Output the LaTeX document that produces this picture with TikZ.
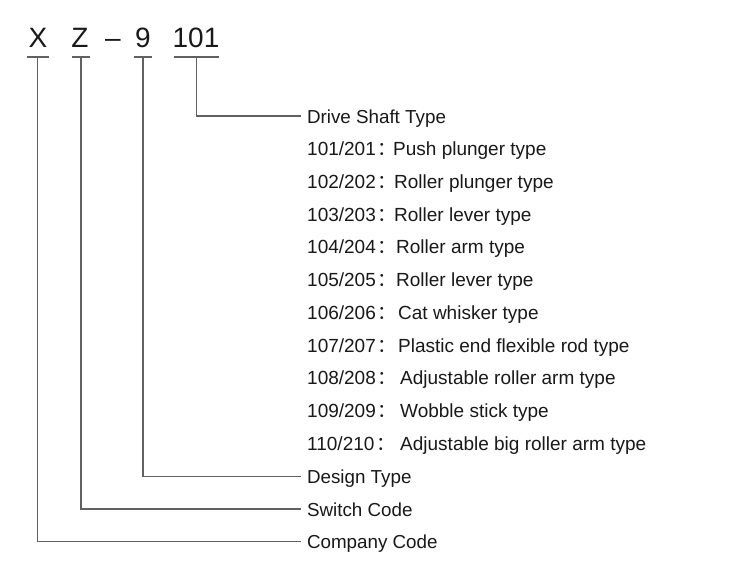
\documentclass[tikz,border=0pt]{standalone}
\usepackage{fontspec}
\setmainfont{Liberation Sans}
\newfontfamily\cjk{Noto Sans CJK SC}
\begin{document}
\begin{tikzpicture}[x=1pt,y=-1pt,
  line/.style={draw=black!62,line width=1.4pt},
  big/.style={inner sep=0pt,anchor=base,text=black!90,font=\fontsize{28}{30}\selectfont},
  lbl/.style={inner ysep=0pt,inner xsep=0pt,outer xsep=6pt,text height=14pt,text depth=0pt,anchor=west,text=black!90,font=\fontsize{18.8}{20}\selectfont},
  txt/.style={inner sep=0pt,anchor=base west,text=black!90,font=\fontsize{19}{20}\selectfont}]
\useasboundingbox (0,0) rectangle (750,576);
\fill[white] (0,0) rectangle (750,576);
% top code
\node[big] (cX) at (38,47.5) {X};
\node[big] (cZ) at (80,47.5) {Z};
\node[big] (cD) at (113,47.5) {\textendash};
\node[big] (c9) at (143,47.5) {9};
\node[big] (c101) at (196,47.5) {101};
\coordinate (uX) at (37.5,57);
\coordinate (uZ) at (81,57);
\coordinate (u9) at (143,57);
\coordinate (u101) at (196.5,57);
\draw[line] ([xshift=-11pt]uX) -- ([xshift=11pt]uX);
\draw[line] ([xshift=-9pt]uZ) -- ([xshift=9pt]uZ);
\draw[line] ([xshift=-9pt]u9) -- ([xshift=9pt]u9);
\draw[line] ([xshift=-22.5pt]u101) -- ([xshift=22.5pt]u101);
% labels
\node[lbl] (drive) at (301,116) {Drive Shaft Type};
\node[lbl] (design) at (301,476.5) {Design Type};
\node[lbl] (switch) at (301,509) {Switch Code};
\node[lbl] (company) at (301,541.5) {Company Code};
% list
\foreach \i/\num/\dx/\desc in {1/101\slash 201/393/Push plunger type,
  2/102\slash 202/394/Roller plunger type,
  3/103\slash 203/394/Roller lever type,
  4/104\slash 204/396/Roller arm type,
  5/105\slash 205/396/Roller lever type,
  6/106\slash 206/398/Cat whisker type,
  7/107\slash 207/398/Plastic end flexible rod type,
  8/108\slash 208/400/Adjustable roller arm type,
  9/109\slash 209/400/Wobble stick type,
  10/110\slash 210/400/Adjustable big roller arm type}{
  \node[txt] (n\i) at (307,{123+32.73*\i}) {\num\hspace{2pt}{\cjk ：}};
  \node[txt] (d\i) at (\dx,{123+32.73*\i}) {\desc};
}
% connectors
\draw[line] (u101) |- (drive.west);
\draw[line] (u9) |- (design.west);
\draw[line] (uZ) |- (switch.west);
\draw[line] (uX) |- (company.west);
\end{tikzpicture}
\end{document}
